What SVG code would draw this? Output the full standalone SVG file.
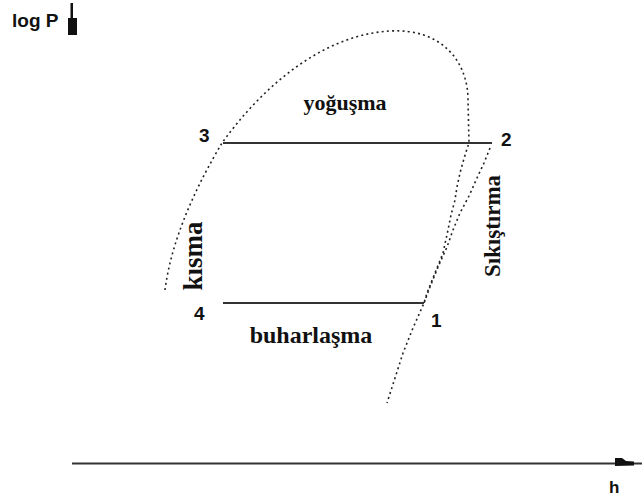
<svg xmlns="http://www.w3.org/2000/svg" width="642" height="500" viewBox="0 0 642 500">
<style>
.bg{fill:#fff}
.line{stroke:#333;stroke-width:2;fill:none}
.dot{stroke:#222;stroke-width:1.6;fill:none;stroke-dasharray:2 3.2}
.lbl{font-family:"Liberation Serif",serif;font-weight:bold;fill:#111}
.num{font-family:"Liberation Sans",Arial,sans-serif;font-weight:bold;fill:#111}
</style>
<rect class="bg" x="0" y="0" width="642" height="500"/>
<g id="axes">
<text class="num" x="12" y="27" font-size="19">log P</text>
<polygon points="70.5,3 73,3 73,18 77,18 77,35 68,35 68,18 70.5,18" fill="#111"/>
<line class="line" x1="72" y1="463.5" x2="642" y2="463.5" stroke="#111"/>
<polygon points="615,458 622,458 626,461 634,461.5 634,465.5 615,466" fill="#111"/>
<text class="num" x="609" y="493" font-size="17">h</text>
</g>
<g id="connectors">
<path id="dome" class="dot" d="M165,290 C172,235 200,180 222,143 C260,90 320,35 390,31 C440,28 468,60 468,100 L469,143 L466,152 L463,162 L460,173 L457,187 L455,200 L451,215 L448,230 L443,253 L435,273 L427,293 L424,303 L413,328 L403,353 L395,378 L387,403"/>
<polyline id="compression" class="dot" points="490,148 484,163 477,178 469,196 460,213 453,230 447,247 438,267 430,287 424,303"/>
<line id="cond" class="line" x1="223" y1="143" x2="492" y2="143"/>
<line id="evap" class="line" x1="223" y1="303" x2="424" y2="303"/>
</g>
<g id="p3"><text class="num" x="199" y="142" font-size="19">3</text></g>
<g id="p2"><text class="num" x="501" y="146" font-size="19">2</text></g>
<g id="p4"><text class="num" x="194" y="320" font-size="19">4</text></g>
<g id="p1"><text class="num" x="431" y="327" font-size="19">1</text></g>
<g id="labels">
<text class="lbl" x="345" y="110" font-size="22" text-anchor="middle">yoğuşma</text>
<text class="lbl" x="311" y="343" font-size="24" text-anchor="middle">buharlaşma</text>
<text class="lbl" transform="translate(202,256) rotate(-90)" font-size="27" text-anchor="middle">kısma</text>
<text class="lbl" transform="translate(500,226) rotate(-90)" font-size="23" text-anchor="middle">Sıkıştırma</text>
</g>
</svg>
